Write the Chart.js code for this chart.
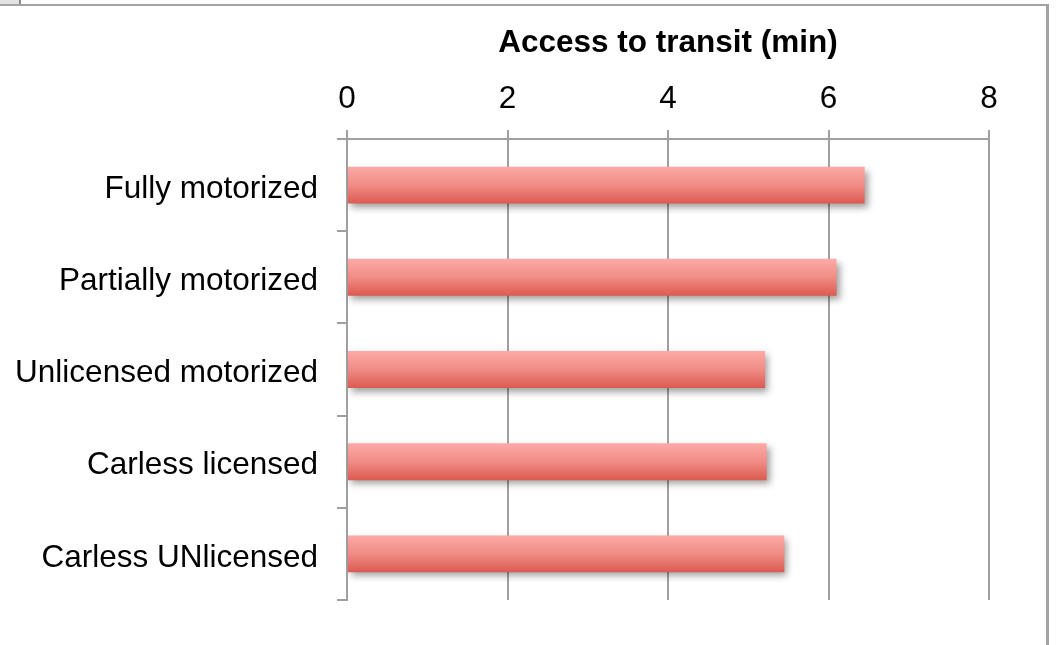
<!DOCTYPE html>
<html>
<head>
<meta charset="utf-8">
<script src="https://cdn.jsdelivr.net/npm/chart.js@4.4.1/dist/chart.umd.min.js"></script>
<style>
  html, body { margin: 0; padding: 0; background: #ffffff; }
  canvas { display: block; }
</style>
</head>
<body>
<canvas id="chart" width="1057" height="645"></canvas>
<script>
// Household groups and their average access time to transit (minutes)
const categories = [
  'Fully motorized',
  'Partially motorized',
  'Unlicensed motorized',
  'Carless licensed',
  'Carless UNlicensed'
];
const accessMinutes = [6.45, 6.1, 5.21, 5.23, 5.45];
const tickValues = [0, 2, 4, 6, 8];
const axisTitle = 'Access to transit (min)';

const GRID = '#a0a0a0';
const FONT = "'Liberation Sans', Arial, Helvetica, sans-serif";

// Vertical pink-to-red gradient spanning each bar's own height
function barGradient(context) {
  const chart = context.chart;
  const yScale = chart.scales && chart.scales.y;
  if (!yScale || context.dataIndex === undefined) return '#ee8580';
  const center = yScale.getPixelForValue(context.dataIndex);
  const band = Math.abs(yScale.getPixelForValue(1) - yScale.getPixelForValue(0));
  if (!isFinite(center) || !isFinite(band) || band === 0) return '#ee8580';
  const half = band * 0.4 / 2;
  const g = chart.ctx.createLinearGradient(0, center - half, 0, center + half);
  g.addColorStop(0, '#fdaaa7');
  g.addColorStop(0.5, '#f08c86');
  g.addColorStop(1, '#db5a50');
  return g;
}

// Soft drop shadow under the bars
const barShadow = {
  id: 'barShadow',
  beforeDatasetsDraw(chart) {
    const ctx = chart.ctx;
    ctx.save();
    ctx.shadowColor = 'rgba(0,0,0,0.38)';
    ctx.shadowBlur = 7;
    ctx.shadowOffsetX = 3;
    ctx.shadowOffsetY = 4;
  },
  afterDatasetsDraw(chart) {
    chart.ctx.restore();
  }
};

// White background and the outer chart frame
const frame = {
  id: 'frame',
  beforeDraw(chart) {
    const ctx = chart.ctx;
    ctx.save();
    ctx.fillStyle = '#ffffff';
    ctx.fillRect(0, 0, chart.width, chart.height);
    ctx.fillStyle = '#e2e2e2';
    ctx.fillRect(0, 0, 20, 4);
    ctx.fillStyle = '#8a8a8a';
    ctx.fillRect(19, 0, 2, 4);
    ctx.strokeStyle = '#a3a3a3';
    ctx.lineWidth = 2;
    ctx.beginPath();
    ctx.moveTo(0, 5);
    ctx.lineTo(1048, 5);
    ctx.stroke();
    ctx.lineWidth = 3;
    ctx.beginPath();
    ctx.moveTo(1047.5, 4);
    ctx.lineTo(1047.5, chart.height);
    ctx.stroke();
    ctx.restore();
  }
};

new Chart(document.getElementById('chart'), {
  type: 'bar',
  data: {
    labels: categories,
    datasets: [{
      data: accessMinutes,
      backgroundColor: barGradient,
      borderWidth: 0,
      barPercentage: 0.4,
      categoryPercentage: 1.0
    }]
  },
  options: {
    indexAxis: 'y',
    responsive: false,
    animation: false,
    events: [],
    layout: { padding: { left: 0, top: 0, right: 68, bottom: 45 } },
    plugins: {
      legend: { display: false },
      tooltip: { enabled: false },
      title: { display: false }
    },
    scales: {
      x: {
        position: 'top',
        min: tickValues[0],
        max: tickValues[tickValues.length - 1],
        afterBuildTicks(scale) {
          scale.ticks = tickValues.map(v => ({ value: v }));
        },
        afterFit(scale) { scale.height = 139; },
        grid: {
          color: GRID,
          lineWidth: 2,
          tickLength: 9,
          drawOnChartArea: true
        },
        border: { display: true, color: GRID, width: 2 },
        ticks: {
          color: '#000000',
          font: { family: FONT, size: 31.5 },
          padding: 12,
          maxRotation: 0
        },
        title: {
          display: true,
          text: axisTitle,
          color: '#000000',
          font: { family: FONT, size: 31.5, weight: 'bold' },
          padding: { top: 24, bottom: 0 }
        }
      },
      y: {
        afterFit(scale) { scale.width = 347; },
        grid: {
          offset: true,
          drawOnChartArea: false,
          color: GRID,
          lineWidth: 2,
          tickLength: 10
        },
        border: { display: true, color: GRID, width: 2 },
        ticks: {
          color: '#000000',
          font: { family: FONT, size: 31.5 },
          padding: 19,
          labelOffset: 4
        }
      }
    }
  },
  plugins: [frame, barShadow]
});
</script>
</body>
</html>
